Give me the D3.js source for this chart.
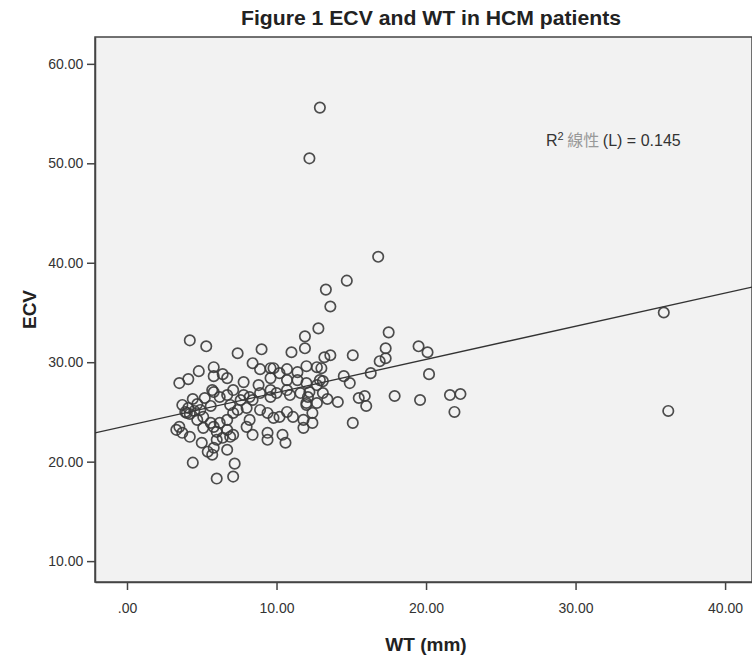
<!DOCTYPE html>
<html>
<head>
<meta charset="utf-8">
<script src="https://cdn.jsdelivr.net/npm/d3@7"></script>
<style>
  html, body { margin: 0; padding: 0; background: #ffffff; }
  svg { display: block; }
  text { font-family: "Liberation Sans", Arial, sans-serif; }
</style>
</head>
<body>
<svg id="chart" width="752" height="656"></svg>
<script>
// ---- Data ----
const wt = [
  12.9, 12.2, 16.8, 14.7, 13.3, 13.6, 35.9, 36.2, 17.5, 12.8,
  11.9, 4.2, 5.3, 7.4, 9.0, 11.0, 11.9, 19.5, 20.1, 17.3,
  17.3, 16.9, 15.1, 13.6, 13.2, 16.3, 14.5, 14.9, 20.2, 13.0,
  13.1, 17.9, 19.6, 21.6, 22.3, 21.9, 15.1, 13.1, 13.4, 14.1,
  15.5, 15.9, 16.0, 8.4, 4.8, 5.8, 3.5, 4.1, 6.4, 5.8,
  8.9, 9.6, 10.7, 12.0, 12.7, 5.7, 4.4, 3.7, 4.0, 4.9,
  5.6, 6.2, 6.7, 5.8, 7.8, 8.2, 8.9, 9.6, 10.9, 11.6,
  12.2, 12.0, 12.7, 12.4, 11.8, 12.4, 11.8, 11.1, 10.7, 9.8,
  9.4, 8.9, 8.0, 7.4, 7.1, 6.9, 8.2, 8.0, 8.4, 9.4,
  9.4, 10.4, 10.6, 6.7, 6.2, 5.8, 5.6, 5.1, 6.0, 6.7,
  6.9, 7.1, 6.4, 6.0, 5.0, 5.4, 5.7, 5.8, 6.7, 4.4,
  7.2, 6.0, 7.1, 3.3, 3.7, 4.2, 3.5, 4.7, 5.1, 10.2,
  12.0, 12.1, 10.0, 8.4, 7.6, 7.1, 6.7, 7.8, 8.8, 9.6,
  10.7, 11.4, 12.0, 12.7, 12.9, 10.2, 11.4, 9.6, 10.7, 9.8,
  3.9, 4.2, 4.5, 4.1, 5.2, 4.7
];
const ecv = [
  55.6, 50.5, 40.6, 38.2, 37.3, 35.6, 35.0, 25.1, 33.0, 33.4,
  32.6, 32.2, 31.6, 30.9, 31.3, 31.0, 31.4, 31.6, 31.0, 31.4,
  30.4, 30.1, 30.7, 30.7, 30.5, 28.9, 28.6, 27.9, 28.8, 29.4,
  28.1, 26.6, 26.2, 26.7, 26.8, 25.0, 23.9, 26.9, 26.3, 26.0,
  26.4, 26.6, 25.6, 29.9, 29.1, 29.5, 27.9, 28.3, 28.8, 28.6,
  29.3, 29.4, 29.3, 29.6, 29.5, 27.2, 26.3, 25.7, 24.9, 25.2,
  25.6, 26.5, 26.7, 27.0, 26.7, 26.5, 26.9, 26.5, 26.7, 26.9,
  27.0, 25.9, 25.9, 24.9, 24.2, 23.9, 23.4, 24.5, 25.0, 24.4,
  24.9, 25.2, 25.4, 25.2, 24.9, 25.7, 24.2, 23.5, 22.7, 22.9,
  22.2, 22.7, 21.9, 24.2, 23.9, 23.5, 23.9, 23.4, 23.0, 23.2,
  22.5, 22.7, 22.4, 22.2, 21.9, 21.0, 20.7, 21.4, 21.2, 19.9,
  19.8, 18.3, 18.5, 23.2, 22.9, 22.5, 23.5, 24.2, 24.5, 24.5,
  25.7, 26.5, 26.9, 26.2, 26.2, 27.2, 28.4, 28.0, 27.7, 28.4,
  28.2, 28.2, 27.9, 27.7, 28.2, 28.9, 29.0, 27.2, 27.2, 29.4,
  25.0, 24.8, 25.1, 25.4, 26.4, 25.8
];
const xTicks = [0, 10, 20, 30, 40];
const yTicks = [10, 20, 30, 40, 50, 60];
const xDomain = [-2.14, 41.8];
const yDomain = [7.9, 62.7];
// fitted linear line (ECV = intercept + slope * WT), R^2 = 0.145
const fitIntercept = 23.6;
const fitSlope = 0.334;
const r2Value = "0.145";
const titleText = "Figure 1 ECV and WT in HCM patients";
const xLabel = "WT (mm)";
const yLabel = "ECV";

// ---- Layout ----
const plot = { left: 95, right: 752, top: 37, bottom: 582 };
const svg = d3.select("#chart");

const x = d3.scaleLinear().domain(xDomain).range([plot.left, plot.right]);
const y = d3.scaleLinear().domain(yDomain).range([plot.bottom, plot.top]);

const fmt = v => { const s = d3.format(".2f")(v); return v === 0 ? s.replace(/^0/, "") : s; };

// Plot background
svg.append("rect")
  .attr("x", plot.left).attr("y", plot.top)
  .attr("width", plot.right - plot.left).attr("height", plot.bottom - plot.top)
  .attr("fill", "#f2f2f2")
  .attr("stroke", "#444").attr("stroke-width", 1.5);

// Axes
const xAxis = d3.axisBottom(x).tickValues(xTicks).tickFormat(fmt).tickSize(8).tickSizeOuter(0);
const gx = svg.append("g").attr("transform", `translate(0,${plot.bottom})`).call(xAxis);
gx.select(".domain").attr("stroke", "#444").attr("stroke-width", 1.5);
gx.selectAll(".tick line").attr("stroke", "#444").attr("stroke-width", 1.5);
gx.selectAll(".tick text").attr("fill", "#333").attr("font-size", 14)
  .attr("font-family", "Liberation Sans, Arial, sans-serif").attr("dy", "1.45em");

const yAxis = d3.axisLeft(y).tickValues(yTicks).tickFormat(fmt).tickSize(8).tickSizeOuter(0);
const gy = svg.append("g").attr("transform", `translate(${plot.left},0)`).call(yAxis);
gy.select(".domain").attr("stroke", "#444").attr("stroke-width", 1.5);
gy.selectAll(".tick line").attr("stroke", "#444").attr("stroke-width", 1.5);
gy.selectAll(".tick text").attr("fill", "#333").attr("font-size", 14)
  .attr("font-family", "Liberation Sans, Arial, sans-serif").attr("dx", "-0.05em");

// Clip
svg.append("clipPath").attr("id", "clip")
  .append("rect").attr("x", plot.left).attr("y", plot.top)
  .attr("width", plot.right - plot.left).attr("height", plot.bottom - plot.top);

// Fit line
const line = d3.line().x(d => x(d)).y(d => y(fitIntercept + fitSlope * d));
svg.append("path")
  .datum(xDomain)
  .attr("clip-path", "url(#clip)")
  .attr("d", line)
  .attr("fill", "none").attr("stroke", "#333").attr("stroke-width", 1.3);

// Points
const pts = wt.map((w, i) => ({ w, e: ecv[i] }));
svg.append("g").attr("clip-path", "url(#clip)")
  .selectAll("circle").data(pts).enter().append("circle")
  .attr("cx", d => x(d.w)).attr("cy", d => y(d.e)).attr("r", 5.2)
  .attr("fill", "none").attr("stroke", "#3a3a3a").attr("stroke-width", 1.7)
  .attr("stroke-opacity", 0.9);

// Title
svg.append("text")
  .attr("x", 431).attr("y", 25).attr("text-anchor", "middle")
  .attr("font-size", 20).attr("font-weight", "bold").attr("fill", "#222")
  .attr("textLength", 380).attr("lengthAdjust", "spacingAndGlyphs")
  .text(titleText);

// Axis labels
svg.append("text")
  .attr("x", 426).attr("y", 651).attr("text-anchor", "middle")
  .attr("font-size", 19).attr("font-weight", "bold").attr("fill", "#222")
  .text(xLabel);
svg.append("text")
  .attr("transform", `translate(36,${(plot.top + plot.bottom) / 2}) rotate(-90)`)
  .attr("text-anchor", "middle")
  .attr("font-size", 19).attr("font-weight", "bold").attr("fill", "#222")
  .text(yLabel);

// R^2 annotation
const ann = svg.append("text").attr("x", 546).attr("y", 146).attr("font-size", 16).attr("fill", "#333");
ann.append("tspan").text("R");
ann.append("tspan").attr("font-size", 11).attr("dy", -6).text("2");
ann.append("tspan").attr("dy", 6).attr("fill", "#999").attr("font-family", "Noto Sans CJK TC").text(" 線性 ");
ann.append("tspan").text("(L) = " + r2Value);
</script>
</body>
</html>
